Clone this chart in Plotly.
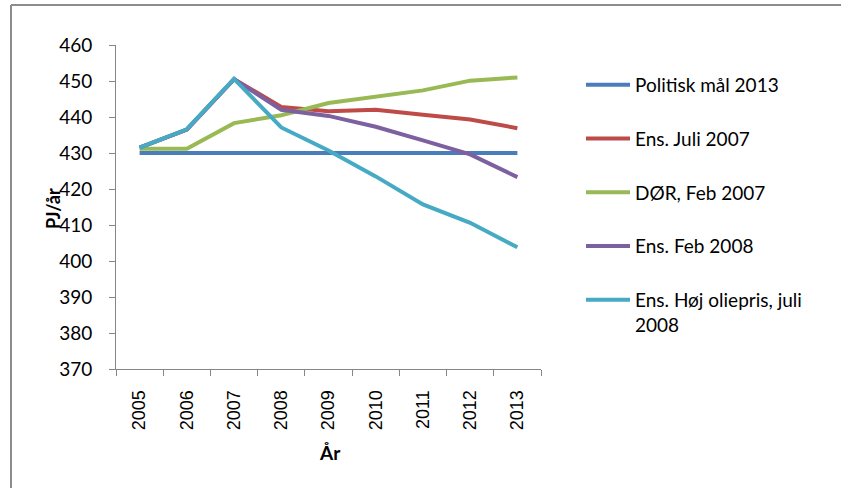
import plotly.graph_objects as go

years = ["2005", "2006", "2007", "2008", "2009", "2010", "2011", "2012", "2013"]
politisk_maal = [430, 430, 430, 430, 430, 430, 430, 430, 430]
ens_juli_2007 = [431.5, 436.5, 450.5, 442.8, 441.6, 442.0, 440.6, 439.3, 436.9]
doer_feb_2007 = [431.2, 431.2, 438.3, 440.5, 443.9, 445.6, 447.4, 450.1, 451.0]
ens_feb_2008 = [431.5, 436.5, 450.5, 442.0, 440.3, 437.3, 433.5, 429.6, 423.3]
ens_hoej_olie = [431.5, 436.6, 450.6, 437.1, 430.7, 423.5, 415.7, 410.6, 403.8]
y_ticks = [370, 380, 390, 400, 410, 420, 430, 440, 450, 460]

series = [
    ("Politisk mål 2013", politisk_maal, "#4A7EBB"),
    ("Ens. Juli 2007", ens_juli_2007, "#BE4B48"),
    ("DØR, Feb 2007", doer_feb_2007, "#98B954"),
    ("Ens. Feb 2008", ens_feb_2008, "#7D60A0"),
    ("Ens. Høj oliepris, juli<br>2008", ens_hoej_olie, "#46AAC5"),
]

fig = go.Figure()
for i, (name, vals, col) in enumerate(series):
    fig.add_trace(go.Scatter(
        x=years, y=vals, name=name, mode="lines",
        line=dict(color=col, width=4), legendgroup=str(i),
    ))

W, H = 841, 488
L, R, T, B = 116, 541, 45, 369

def px(x):
    return (x - L) / (R - L)

def py(y):
    return (B - y) / (B - T)

axis_col = "#868686"
fig.update_layout(
    width=W, height=H,
    margin=dict(l=L, r=W - R, t=T, b=H - B),
    paper_bgcolor="white", plot_bgcolor="white",
    font=dict(family="Lato", size=18, color="black"),
    showlegend=True,
    legend=dict(
        x=px(581), y=py(66), xanchor="left", yanchor="top",
        font=dict(family="Lato", size=19, color="black"),
        tracegroupgap=26, traceorder="grouped", itemwidth=44,
        valign="top",
        bgcolor="rgba(0,0,0,0)",
    ),
    xaxis=dict(
        type="category", range=[-0.5, 8.5],
        showline=True, linecolor=axis_col, linewidth=1,
        ticks="outside", tickson="boundaries", ticklen=6, tickcolor=axis_col,
        tickangle=-90, showgrid=False, zeroline=False,
        ticklabelstandoff=13,
        tickfont=dict(family="Liberation Sans", size=18),
    ),
    yaxis=dict(
        range=[370, 460], tickvals=y_ticks,
        showline=True, linecolor=axis_col, linewidth=1,
        ticks="outside", ticklen=6, tickcolor=axis_col,
        showgrid=False, zeroline=False,
        ticklabelstandoff=13,
        tickfont=dict(family="Lato", size=19),
    ),
    annotations=[
        dict(text="<b>PJ/år</b>", x=px(53), y=py(209), xref="paper", yref="paper",
             xanchor="center", yanchor="middle",
             textangle=-90, showarrow=False, font=dict(family="Lato", size=18)),
        dict(text="<b>År</b>", x=px(330), y=py(452), xref="paper", yref="paper",
             xanchor="center", yanchor="middle",
             showarrow=False, font=dict(family="Lato", size=19)),
    ],
    shapes=[
        dict(type="line", xref="paper", yref="paper",
             x0=px(11), x1=px(11), y0=py(490), y1=py(5),
             line=dict(color="#8C8C8C", width=2)),
        dict(type="line", xref="paper", yref="paper",
             x0=px(11), x1=px(841), y0=py(5), y1=py(5),
             line=dict(color="#8C8C8C", width=2)),
    ],
)

fig.write_html(
    "out.html",
    config={"displayModeBar": False},
    post_script=(
        "document.documentElement.style.overflow='hidden';"
        "document.body.style.margin='0';document.body.style.overflow='hidden';"
    ),
)
